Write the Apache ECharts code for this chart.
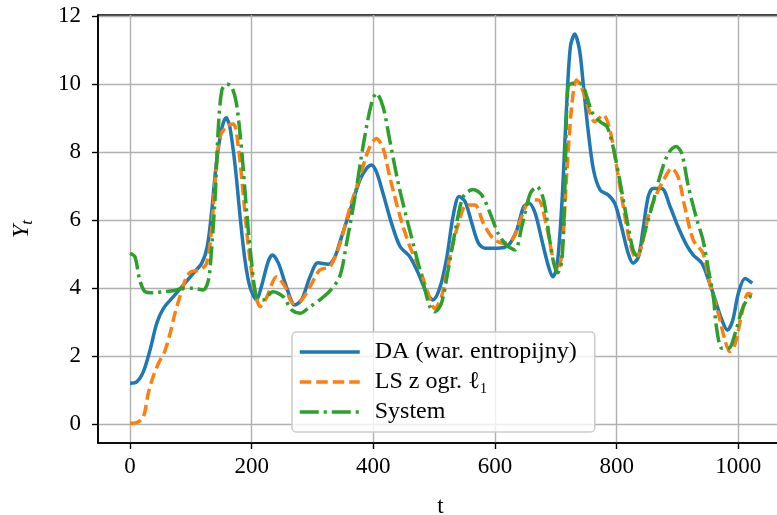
<!DOCTYPE html>
<html>
<head>
<meta charset="utf-8">
<script src="https://cdn.jsdelivr.net/npm/echarts@6/dist/echarts.min.js"></script>
<style>
  html, body { margin: 0; padding: 0; background: #fff; }
  #chart { width: 777px; height: 515px; }
</style>
</head>
<body>
<div id="chart"></div>
<script>
// czas t i wartości Y_t
const tDA = [0, 11, 22, 33, 44, 55, 71, 88, 104, 118, 127, 134, 142, 151, 158, 164, 173, 181, 189, 197,
  208, 216, 227, 234, 244, 257, 271, 282, 296, 309, 326, 337, 345, 362, 378, 389, 397, 405, 416, 430,
  444, 460, 474, 488, 498, 510, 521, 531, 541, 551, 562, 573, 584, 603, 622, 636, 647, 656, 666, 677,
  688, 695, 702, 710, 718, 724, 731, 739, 745, 753, 762, 773, 786, 797, 808, 819, 827, 836, 844, 852,
  860, 874, 888, 901, 915, 926, 940, 951, 962, 973, 982, 991, 1000, 1011, 1023];
const yDA = [1.20, 1.24, 1.54, 2.18, 2.96, 3.40, 3.74, 4.09, 4.43, 4.73, 5.22, 6.2, 7.67, 8.70, 9.01, 8.75, 7.57, 6.10, 4.82, 4.04,
  3.65, 4.04, 4.77, 4.97, 4.73, 4.04, 3.50, 3.65, 4.33, 4.74, 4.70, 4.92, 5.35, 6.29, 7.18, 7.52, 7.62, 7.42, 6.78, 5.90,
  5.22, 4.92, 4.43, 3.84, 3.65, 4.04, 4.92, 6.10, 6.69, 6.54, 5.90, 5.31, 5.17, 5.17, 5.26, 5.71, 6.39, 6.49, 6.20, 5.41,
  4.63, 4.33, 4.63, 6.49, 9.43, 11.10, 11.47, 11.0, 10.02, 8.65, 7.47, 6.88, 6.74, 6.49, 5.80, 5.02, 4.73, 4.92, 5.80, 6.69,
  6.93, 6.93, 6.39, 5.80, 5.26, 4.97, 4.73, 4.24, 3.65, 3.06, 2.76, 3.06, 3.84, 4.28, 4.14];

const tLS = [0, 11, 22, 30, 38, 48, 57, 66, 74, 82, 93, 101, 115, 126, 134, 140, 148, 159, 170, 178,
  186, 194, 203, 214, 225, 241, 255, 268, 282, 296, 312, 329, 345, 362, 378, 392, 405, 416, 427, 444,
  460, 477, 490, 501, 512, 526, 540, 553, 567, 581, 597, 614, 630, 644, 658, 671, 685, 696, 703, 710,
  718, 726, 734, 742, 753, 764, 778, 789, 800, 811, 822, 832, 841, 852, 866, 880, 890, 901, 912, 926,
  942, 953, 967, 978, 986, 995, 1006, 1016, 1023];
const yLS = [0.02, 0.04, 0.21, 0.90, 1.39, 1.83, 2.13, 2.67, 3.26, 3.74, 4.33, 4.48, 4.53, 4.73, 5.71, 7.18, 8.45, 8.76, 8.82, 8.16,
  6.78, 5.31, 4.14, 3.45, 3.74, 4.33, 4.04, 3.55, 3.65, 4.04, 4.53, 4.63, 5.30, 6.39, 7.27, 8.06, 8.40, 8.11, 7.27, 6.10,
  5.22, 4.53, 3.84, 3.40, 3.74, 4.92, 5.90, 6.44, 6.44, 5.90, 5.46, 5.31, 5.46, 6.10, 6.59, 6.59, 5.80, 4.82, 4.50, 5.02,
  7.37, 9.33, 10.12, 9.92, 9.33, 8.89, 9.09, 8.65, 7.57, 6.39, 5.31, 4.87, 5.22, 6.10, 6.78, 7.27, 7.52, 7.27, 6.39, 5.41,
  5.02, 4.14, 3.26, 2.47, 2.13, 2.37, 3.26, 3.84, 3.80];

const tSys = [0, 8, 16, 25, 38, 55, 71, 88, 104, 120, 129, 134, 140, 145, 151, 159, 167, 175, 184, 192,
  200, 208, 219, 235, 252, 266, 280, 296, 312, 329, 345, 356, 370, 384, 397, 405, 416, 427, 441, 457,
  471, 485, 493, 501, 512, 523, 537, 548, 564, 578, 592, 605, 619, 633, 644, 658, 669, 680, 690, 697,
  703, 710, 715, 720, 729, 742, 751, 759, 773, 784, 794, 805, 816, 827, 834, 844, 858, 871, 885, 898,
  907, 918, 932, 942, 951, 959, 964, 973, 984, 995, 1006, 1019, 1023];
const ySys = [5.02, 4.92, 4.24, 3.89, 3.86, 3.89, 3.92, 3.99, 3.99, 3.94, 4.24, 5.12, 6.69, 8.65, 9.82, 10.0, 9.92, 9.43, 7.96, 6.20,
  4.73, 3.74, 3.65, 3.89, 3.74, 3.35, 3.26, 3.45, 3.65, 3.92, 4.35, 5.31, 6.69, 8.26, 9.43, 9.73, 9.33, 8.35, 7.08, 5.90,
  4.92, 3.94, 3.45, 3.30, 3.55, 4.53, 5.90, 6.69, 6.90, 6.74, 6.20, 5.61, 5.26, 5.12, 5.80, 6.78, 6.98, 6.59, 5.40, 4.70,
  4.45, 4.82, 6.98, 9.92, 10.02, 10.0, 9.63, 9.19, 8.89, 8.75, 8.16, 7.18, 6.10, 5.12, 4.94, 5.51, 6.39, 7.27, 7.96, 8.16,
  7.96, 6.98, 6.0, 5.41, 4.53, 3.74, 2.86, 2.23, 2.23, 2.67, 3.35, 3.74, 3.70];

const xTicks = [0, 200, 400, 600, 800, 1000];
const yTicks = [0, 2, 4, 6, 8, 10, 12];
const seriesNames = ['DA (war. entropijny)', 'LS z ogr. ℓ₁', 'System'];

const pairs = (t, y) => t.map((v, i) => [v, y[i]]);
const FONT = '"Liberation Serif", "DejaVu Serif", serif';

const chart = echarts.init(document.getElementById('chart'));

const option = {
  animation: false,
  textStyle: { fontFamily: FONT },
  grid: {
    left: 98, top: 15, right: -6, bottom: 72,
    outerBoundsMode: 'none', containLabel: false,
    show: true, borderColor: '#000', borderWidth: 1.6,
  },
  xAxis: {
    type: 'value', min: -52.6, max: 1073.5,
    name: 't', nameLocation: 'middle', nameGap: 52,
    nameTextStyle: { fontSize: 23, color: '#000', fontFamily: FONT },
    axisLine: { show: true, onZero: false, lineStyle: { color: '#000', width: 1.6 } },
    axisTick: { show: true, length: 6, customValues: xTicks, lineStyle: { color: '#000', width: 1.4 } },
    axisLabel: {
      customValues: xTicks, fontSize: 23, color: '#000', margin: 12, fontFamily: FONT,
      formatter: (v) => String(v),
    },
    splitLine: { show: true, lineStyle: { color: '#b0b0b0', width: 1.4 } },
  },
  yAxis: {
    type: 'value', min: -0.56, max: 12.03,
    name: '{y|Y}{s|t}', nameLocation: 'middle', nameRotate: 90, nameGap: 62,
    nameTextStyle: {
      color: '#000', fontFamily: FONT,
      rich: {
        y: { fontSize: 24, fontStyle: 'italic', fontFamily: FONT, color: '#000' },
        s: { fontSize: 17, fontStyle: 'italic', fontFamily: FONT, color: '#000', padding: [12, 0, 0, 0] },
      },
    },
    axisLine: { show: true, onZero: false, lineStyle: { color: '#000', width: 1.6 } },
    axisTick: { show: true, length: 6, customValues: yTicks, lineStyle: { color: '#000', width: 1.4 } },
    axisLabel: { customValues: yTicks, fontSize: 23, color: '#000', margin: 17, fontFamily: FONT },
    splitLine: { show: true, lineStyle: { color: '#b0b0b0', width: 1.4 } },
  },
  legend: {
    orient: 'vertical', left: 292, top: 332,
    padding: [5, 8, 5, 6],
    itemWidth: 60, itemHeight: 14, itemGap: 0,
    backgroundColor: 'rgba(255,255,255,0.8)',
    borderColor: '#cccccc', borderWidth: 1.5, borderRadius: 4,
    itemStyle: { opacity: 0 },
    lineStyle: { width: 3.5 },
    textStyle: { fontSize: 24, color: '#000', fontFamily: FONT, lineHeight: 30, width: 212, padding: [0, 0, 0, 10] },
    data: seriesNames,
  },
  series: [
    {
      name: seriesNames[0], type: 'line', data: pairs(tDA, yDA),
      symbol: 'none', smooth: 0.3,
      lineStyle: { color: '#1f77b4', width: 3.5 }, itemStyle: { color: '#1f77b4' },
    },
    {
      name: seriesNames[1], type: 'line', data: pairs(tLS, yLS),
      symbol: 'none', smooth: 0.3,
      lineStyle: { color: '#ff7f0e', width: 3.5, type: [11.5, 5], cap: 'butt' }, itemStyle: { color: '#ff7f0e' },
    },
    {
      name: seriesNames[2], type: 'line', data: pairs(tSys, ySys),
      symbol: 'none', smooth: 0.3,
      lineStyle: { color: '#2ca02c', width: 3.5, type: [19, 5, 3, 5], cap: 'butt' }, itemStyle: { color: '#2ca02c' },
    },
  ],
};

chart.setOption(option);
</script>
</body>
</html>
